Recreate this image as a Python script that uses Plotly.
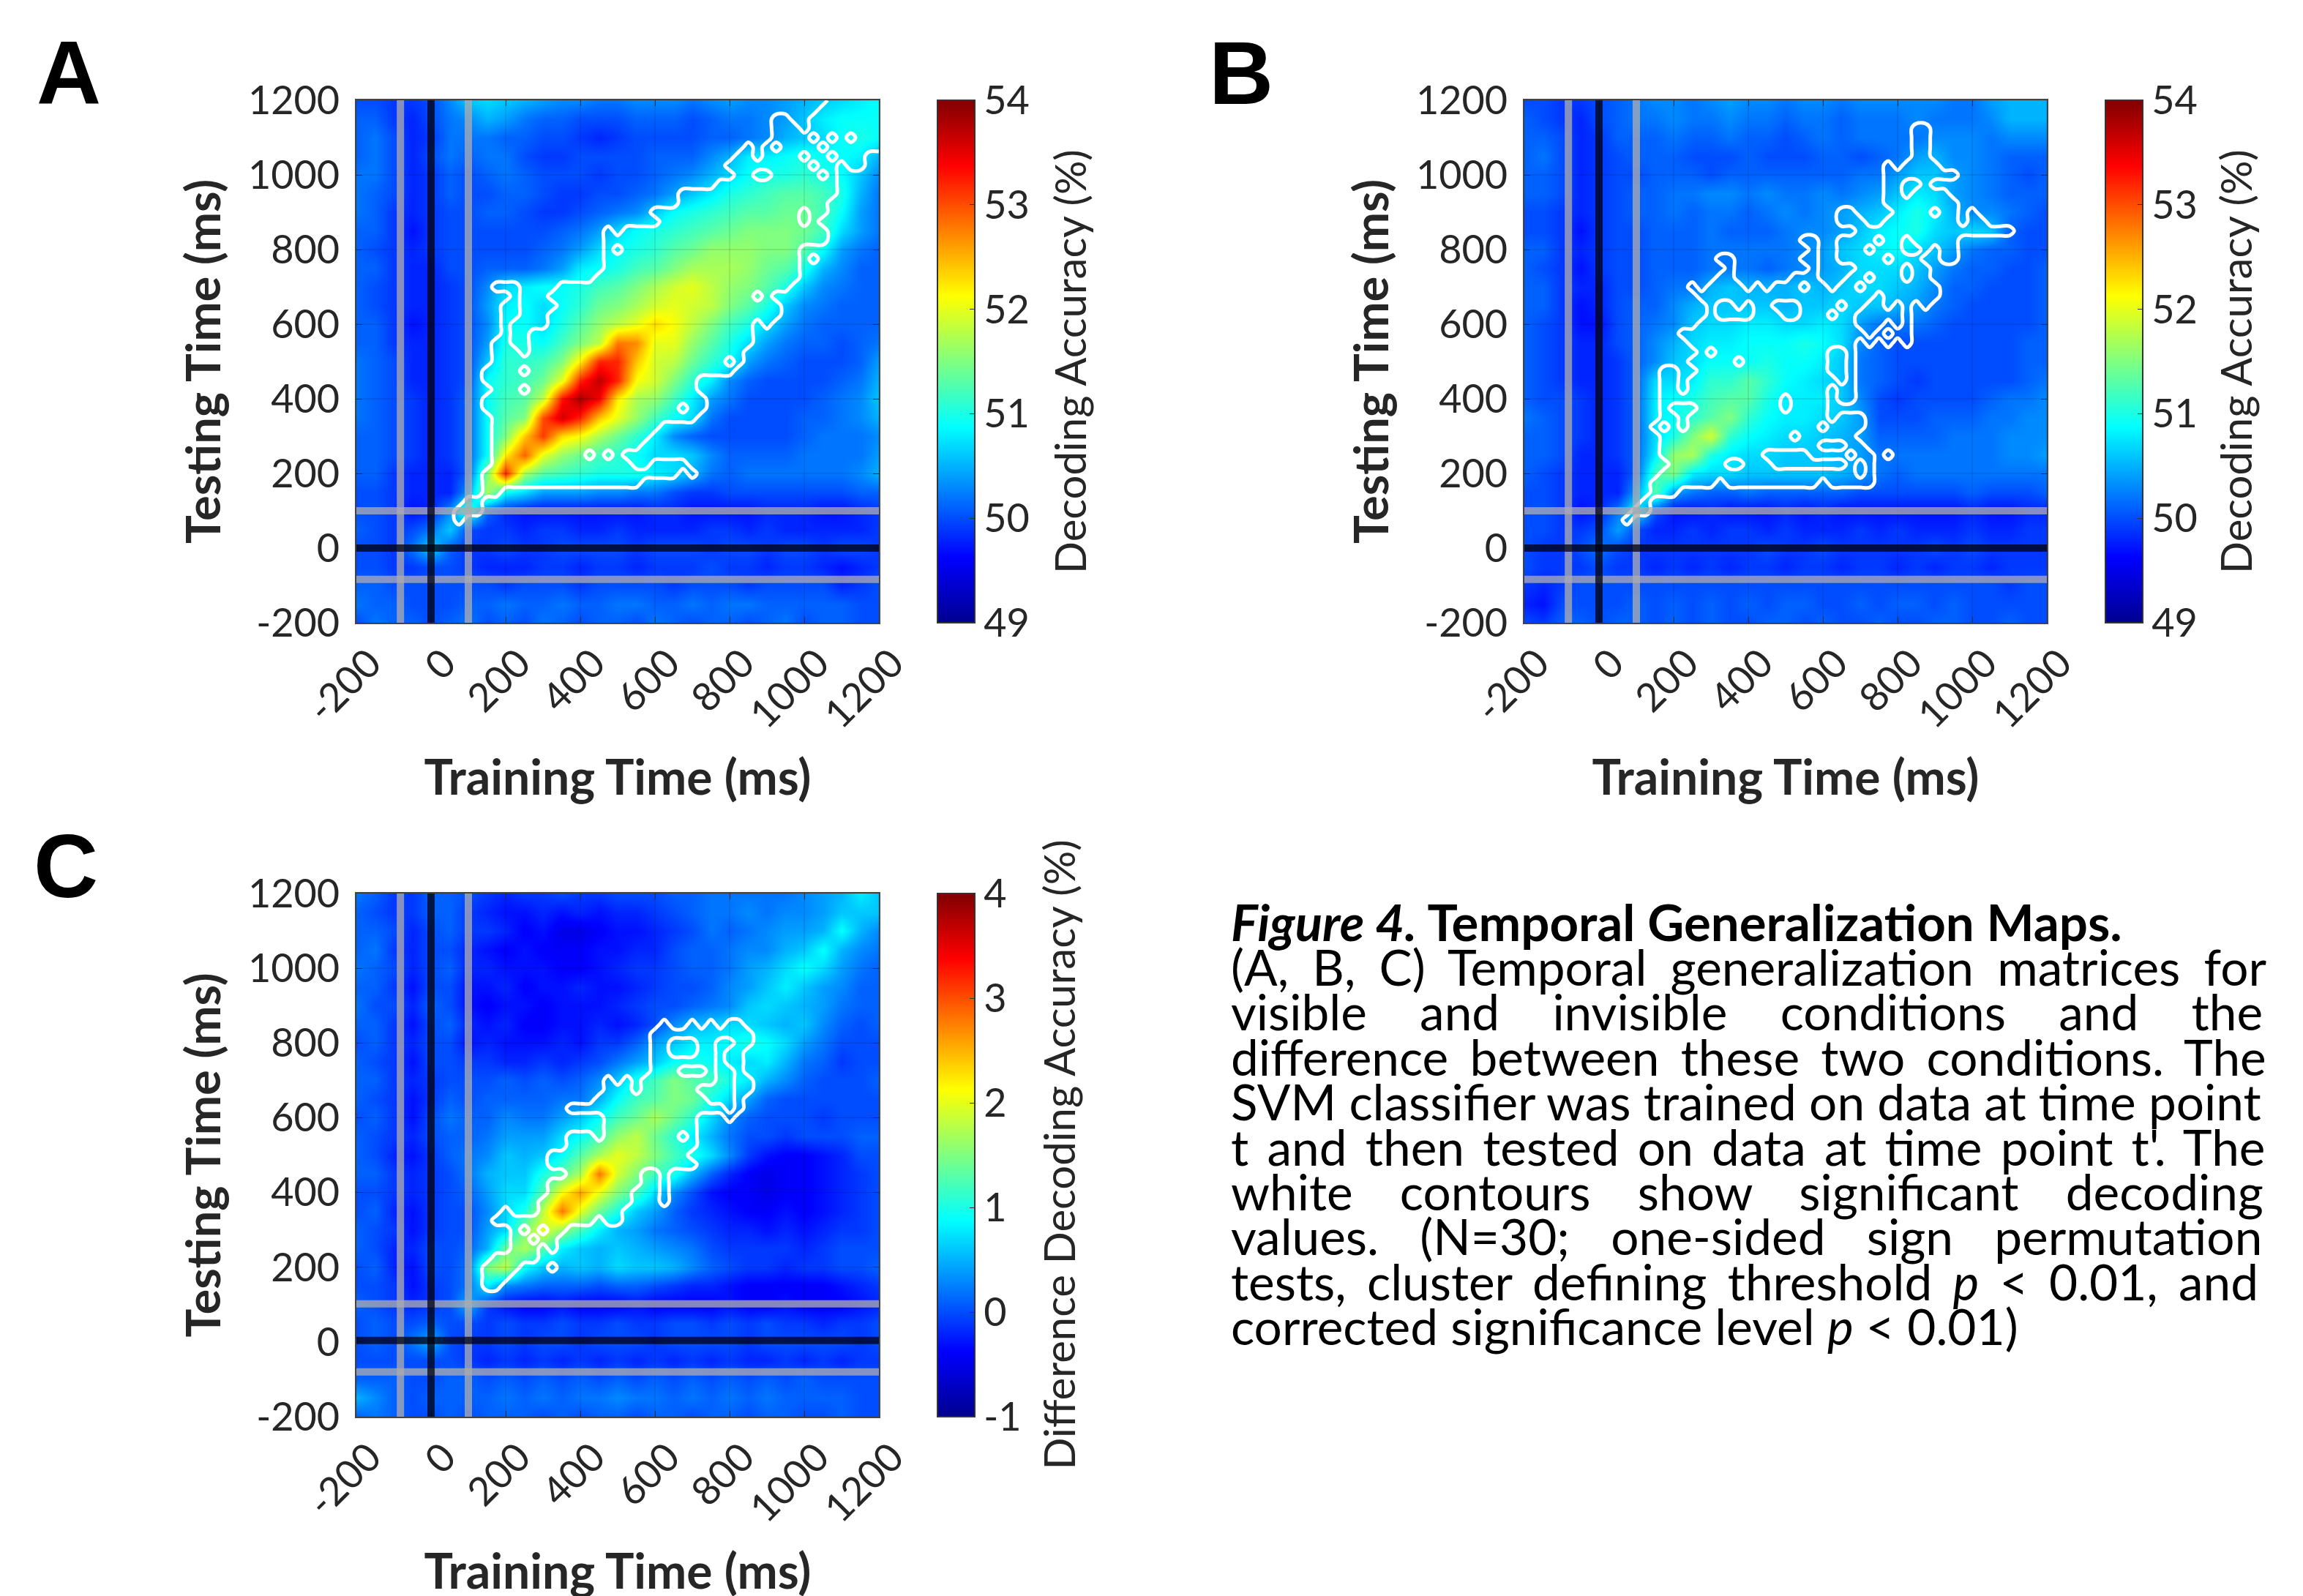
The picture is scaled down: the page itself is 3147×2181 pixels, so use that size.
import plotly.graph_objects as go

W, H = 3147, 2181
TIME_GRID = list(range(-200, 1201, 50))      # heat map sampling, ms
SIG_GRID = list(range(-200, 1201, 25))       # significance mask sampling, ms
TICKS = [-200, 0, 200, 400, 600, 800, 1000, 1200]
CB_TICKS_AB = [49, 50, 51, 52, 53, 54]
CB_TICKS_C = [-1, 0, 1, 2, 3, 4]
ONSET_GRAY_V = [-82, 100]
ONSET_GRAY_H = {"A": [100, -84], "B": [100, -84], "C": [102, -80]}
ONSET_BLACK_H = {"A": 0, "B": 0, "C": 4}

# rows run from testing time 1200 ms (first) down to -200 ms (last)
Z_A = [
[50.0,50.0,49.9,49.9,50.0,50.3,50.6,50.7,50.6,50.5,50.4,50.3,50.3,50.2,50.2,50.3,50.3,50.3,50.2,50.3,50.4,50.3,50.3,50.4,50.5,50.6,50.7,50.8,50.9],
[50.1,50.1,49.9,49.8,50.0,50.2,50.3,50.5,50.4,50.2,50.1,50.1,50.0,50.0,50.0,50.1,50.1,50.1,50.0,50.1,50.2,50.2,50.3,50.4,50.6,50.8,50.9,50.9,50.9],
[50.1,50.2,50.0,49.8,49.9,50.2,50.2,50.2,50.1,50.1,50.0,50.0,49.9,49.8,49.9,50.0,50.0,50.0,50.0,50.1,50.1,50.2,50.3,50.5,50.6,50.7,50.9,51.0,50.9],
[50.1,50.2,50.0,49.8,50.0,50.2,50.1,50.2,50.2,50.0,49.9,49.9,50.0,50.0,50.0,50.0,50.1,50.1,50.1,50.3,50.5,50.8,50.8,50.9,51.0,50.9,50.9,50.8,50.5],
[50.2,50.2,50.0,49.8,49.9,50.1,50.0,50.1,50.2,50.1,50.0,50.0,50.0,49.9,50.0,50.0,50.1,50.2,50.3,50.5,50.7,50.9,51.0,51.0,51.1,51.0,50.9,50.6,50.3],
[50.2,50.1,50.0,49.8,49.9,50.1,50.0,50.0,50.1,50.1,50.0,49.9,49.9,50.0,50.0,50.1,50.2,50.4,50.6,50.8,51.0,51.1,51.2,51.3,51.3,51.2,51.0,50.5,50.2],
[50.2,50.1,49.9,49.8,49.9,50.0,50.0,50.1,50.1,50.0,49.9,49.9,50.0,50.1,50.2,50.3,50.6,50.9,51.0,51.1,51.2,51.3,51.3,51.4,51.4,51.2,50.9,50.4,50.2],
[50.1,50.1,49.9,49.7,49.9,50.0,50.0,50.0,50.0,50.0,50.0,50.1,50.2,50.4,50.7,50.9,51.0,51.1,51.2,51.3,51.4,51.5,51.5,51.5,51.4,51.2,50.7,50.4,50.2],
[50.1,50.0,49.9,49.8,49.9,50.0,50.0,50.0,50.0,50.0,50.1,50.2,50.4,50.7,50.9,51.0,51.1,51.3,51.4,51.6,51.6,51.6,51.5,51.5,51.3,50.9,50.4,50.2,50.1],
[50.1,50.1,49.9,49.8,49.8,50.0,50.0,50.1,50.1,50.1,50.2,50.4,50.8,50.9,51.0,51.2,51.3,51.5,51.7,51.7,51.7,51.6,51.4,51.3,51.0,50.5,50.3,50.1,50.1],
[50.1,50.0,49.9,49.8,49.8,49.9,50.0,50.3,50.7,50.8,50.9,50.9,51.0,51.2,51.3,51.5,51.7,51.9,52.0,51.8,51.6,51.5,51.3,51.0,50.6,50.3,50.2,50.1,50.1],
[50.1,50.0,49.9,49.8,49.8,49.9,50.0,50.4,50.8,50.9,50.7,50.9,51.1,51.4,51.5,51.7,51.9,52.0,51.9,51.8,51.5,51.3,51.0,50.6,50.3,50.2,50.1,50.1,50.1],
[50.1,50.1,49.9,49.7,49.8,49.9,50.0,50.3,50.9,50.9,50.7,51.0,51.3,51.6,51.8,52.0,52.3,52.1,51.8,51.5,51.2,51.0,50.7,50.4,50.2,50.1,50.1,50.1,50.1],
[50.1,50.1,49.9,49.8,49.8,49.9,50.0,50.4,51.0,51.0,50.9,51.2,51.5,51.8,52.8,52.7,52.0,52.0,51.6,51.3,51.0,50.7,50.4,50.2,50.1,50.1,50.0,50.1,50.2],
[50.2,50.1,50.0,49.8,49.8,49.9,50.0,50.6,51.1,51.1,51.2,51.5,52.2,53.2,53.2,52.4,51.9,51.8,51.4,51.1,50.9,50.4,50.2,50.1,50.0,50.0,50.0,50.1,50.4],
[50.2,50.1,50.0,49.8,49.8,49.9,50.0,50.9,51.1,51.2,51.4,52.0,53.2,53.7,53.2,52.1,51.9,51.5,51.1,50.8,50.3,50.1,50.0,50.0,50.0,50.0,50.1,50.2,50.5],
[50.2,50.1,50.0,49.9,49.8,49.9,50.1,50.9,51.2,51.3,51.8,53.3,53.8,53.4,52.2,51.7,51.6,51.2,50.8,50.4,50.2,50.0,50.0,50.0,50.0,50.1,50.2,50.3,50.6],
[50.2,50.1,50.0,49.9,49.8,49.9,50.1,50.9,51.3,51.5,53.0,53.6,53.2,52.4,52.0,51.6,51.2,50.9,50.7,50.2,50.0,50.0,50.0,50.0,50.1,50.1,50.2,50.3,50.5],
[50.1,50.1,50.0,49.9,49.8,49.9,50.1,50.9,51.5,52.4,53.1,52.3,52.1,51.7,51.4,51.1,50.8,50.3,50.1,50.0,50.0,50.0,50.0,50.0,50.1,50.2,50.2,50.2,50.3],
[50.1,50.1,50.0,49.9,49.8,49.9,50.1,50.9,52.2,52.9,52.0,51.6,51.4,51.2,51.1,50.9,50.7,50.7,50.6,50.3,50.1,50.1,50.1,50.1,50.2,50.2,50.2,50.2,50.4],
[50.1,50.1,49.9,49.8,49.8,49.8,50.1,51.5,53.2,51.7,51.3,51.2,51.1,51.0,51.0,51.0,50.8,50.7,50.5,50.2,50.1,50.2,50.2,50.2,50.2,50.2,50.2,50.3,50.5],
[50.0,50.0,49.9,49.8,49.8,49.8,50.4,51.7,50.9,50.7,50.4,50.4,50.4,50.3,50.3,50.2,50.2,50.0,49.9,49.9,50.0,50.0,50.0,50.0,50.0,50.0,50.0,50.1,50.1],
[50.0,50.0,49.9,49.7,49.8,50.3,51.2,50.1,49.8,49.7,49.7,49.7,49.7,49.7,49.7,49.7,49.8,49.8,49.7,49.7,49.7,49.7,49.8,49.8,49.8,49.7,49.7,49.8,49.9],
[50.1,50.0,49.9,50.0,50.2,50.6,50.0,49.9,49.9,49.8,49.9,49.9,49.8,49.8,49.9,49.8,49.8,49.8,49.8,49.9,49.9,49.8,49.9,49.8,49.8,49.8,49.8,49.8,49.9],
[50.0,50.0,49.9,50.2,50.7,50.1,49.9,49.9,50.0,49.9,49.9,50.0,50.0,50.0,50.0,49.9,50.0,50.0,50.0,49.9,50.0,50.0,49.9,50.0,50.0,49.9,50.0,50.0,49.9],
[50.0,50.0,49.9,49.9,50.0,50.0,49.9,49.8,49.8,49.8,49.9,49.9,49.8,49.9,49.9,49.8,49.9,49.9,49.9,50.0,49.9,49.9,49.8,49.9,49.9,49.8,49.7,49.8,49.9],
[50.1,50.1,50.0,50.0,50.0,50.0,50.0,50.0,49.9,50.0,50.0,50.0,49.9,50.0,50.0,50.0,50.0,49.9,50.0,50.0,50.0,49.9,50.0,50.0,50.0,50.0,49.8,49.9,50.0],
[50.2,50.1,50.1,50.0,50.0,50.0,50.1,50.1,50.2,50.1,50.1,50.2,50.1,50.1,50.2,50.2,50.1,50.1,50.2,50.1,50.2,50.2,50.1,50.1,50.1,50.1,50.1,50.0,50.0],
[50.0,50.2,50.1,50.1,50.0,50.1,50.2,50.0,50.1,50.0,50.2,50.1,50.0,50.1,50.1,50.0,50.2,50.1,50.0,50.1,50.1,50.0,50.1,50.2,50.0,50.1,50.1,50.0,50.0],
]
Z_B = [
[50.0,50.0,49.9,49.9,50.0,50.1,50.2,50.3,50.3,50.2,50.3,50.4,50.3,50.3,50.2,50.3,50.3,50.2,50.3,50.3,50.3,50.3,50.3,50.2,50.2,50.4,50.5,50.5,50.5],
[50.1,50.0,49.9,49.8,50.0,50.1,50.2,50.2,50.3,50.2,50.2,50.3,50.2,50.2,50.1,50.2,50.2,50.1,50.2,50.2,50.2,50.3,50.2,50.2,50.2,50.3,50.5,50.5,50.5],
[50.1,50.1,50.0,49.8,49.9,50.1,50.1,50.1,50.2,50.1,50.1,50.2,50.1,50.1,50.0,50.1,50.2,50.1,50.2,50.2,50.2,50.2,50.3,50.3,50.3,50.2,50.3,50.3,50.3],
[50.1,50.2,50.0,49.8,49.9,50.0,50.1,50.1,50.1,50.0,50.0,50.0,50.1,50.0,50.0,50.0,50.1,50.1,50.0,50.1,50.2,50.4,50.5,50.3,50.3,50.2,50.1,50.1,50.1],
[50.1,50.1,50.0,49.8,49.9,50.0,50.0,50.1,50.1,50.1,50.0,50.1,50.1,50.1,50.1,50.1,50.1,50.1,50.2,50.2,50.4,50.6,50.6,50.4,50.3,50.2,50.1,50.0,50.1],
[50.1,50.1,50.0,49.8,49.9,50.0,50.1,50.1,50.2,50.2,50.3,50.3,50.2,50.3,50.2,50.2,50.3,50.2,50.3,50.4,50.6,50.8,50.7,50.4,50.3,50.2,50.1,50.1,50.1],
[50.0,50.0,49.9,49.8,49.9,50.0,50.1,50.1,50.2,50.1,50.2,50.2,50.1,50.2,50.3,50.2,50.3,50.4,50.5,50.6,50.8,51.0,50.8,50.5,50.3,50.3,50.2,50.1,50.0],
[50.0,50.0,49.9,49.7,49.9,50.0,50.0,50.1,50.1,50.1,50.2,50.1,50.1,50.1,50.2,50.3,50.3,50.4,50.6,50.8,50.9,51.0,50.7,50.6,50.7,50.6,50.1,50.0,50.0],
[50.1,50.1,49.9,49.8,49.9,50.0,50.0,50.1,50.1,50.1,50.2,50.2,50.2,50.2,50.2,50.3,50.4,50.6,50.7,50.8,50.9,50.7,50.6,50.4,50.2,50.1,50.1,50.0,50.0],
[50.1,50.0,49.9,49.7,49.9,50.0,50.0,50.1,50.1,50.1,50.2,50.2,50.2,50.1,50.2,50.3,50.4,50.5,50.7,50.7,50.7,50.6,50.4,50.2,50.1,50.1,50.0,50.0,50.1],
[50.1,50.1,49.9,49.8,49.8,50.0,50.0,50.1,50.2,50.2,50.5,50.6,50.5,50.5,50.5,50.6,50.5,50.6,50.7,50.7,50.6,50.5,50.3,50.1,50.1,50.0,50.0,50.0,50.1],
[50.1,50.1,49.9,49.7,49.8,50.0,50.1,50.1,50.3,50.5,50.6,50.6,50.6,50.6,50.5,50.6,50.6,50.7,50.6,50.6,50.5,50.4,50.2,50.1,50.0,50.0,50.0,50.0,50.1],
[50.1,50.0,49.9,49.7,49.7,50.0,50.1,50.2,50.3,50.6,50.7,50.7,50.8,50.8,50.7,50.7,50.8,50.7,50.4,50.2,50.2,50.2,50.1,50.0,50.0,50.0,50.0,50.0,50.1],
[50.1,50.0,49.9,49.8,49.8,50.0,50.1,50.3,50.5,50.7,50.8,50.8,50.9,50.9,50.9,51.0,50.9,50.7,50.3,50.1,50.0,50.0,50.0,50.0,50.0,50.0,50.0,50.1,50.1],
[50.1,50.0,49.9,49.8,49.8,49.9,50.1,50.3,50.6,50.7,50.9,50.9,50.9,51.0,50.9,50.9,50.8,50.6,50.2,50.1,50.0,50.0,50.0,50.0,50.0,50.0,50.0,50.1,50.1],
[50.1,50.0,49.9,49.8,49.8,49.9,50.1,50.7,50.7,50.8,51.1,51.1,51.3,51.1,50.9,50.8,50.7,50.6,50.2,50.1,50.0,49.9,50.0,50.0,50.0,50.0,50.0,50.1,50.2],
[50.1,50.0,50.0,49.9,49.8,49.9,50.1,50.8,50.9,51.0,51.2,51.3,51.3,51.0,50.8,50.8,50.8,50.6,50.3,50.0,49.9,50.0,50.0,50.0,50.0,50.1,50.2,50.2,50.3],
[50.2,50.1,50.0,49.9,49.8,49.9,50.1,50.8,50.9,51.1,51.3,51.5,51.1,50.9,50.8,50.8,50.7,50.6,50.4,50.0,50.0,50.0,50.1,50.1,50.1,50.2,50.2,50.3,50.3],
[50.1,50.1,50.0,49.9,49.8,49.9,50.1,50.7,51.0,51.5,51.9,51.1,50.9,50.8,50.7,50.7,50.6,50.5,50.4,50.1,50.1,50.1,50.1,50.2,50.2,50.2,50.3,50.3,50.3],
[50.1,50.1,50.0,49.8,49.8,49.9,50.1,50.8,51.6,51.7,51.0,50.8,50.7,50.7,50.6,50.6,50.6,50.5,50.4,50.2,50.2,50.2,50.2,50.2,50.2,50.2,50.3,50.3,50.4],
[50.1,50.0,49.9,49.8,49.8,49.8,50.1,51.2,51.5,50.8,50.7,50.7,50.6,50.6,50.6,50.6,50.6,50.5,50.4,50.2,50.1,50.2,50.2,50.2,50.2,50.2,50.2,50.2,50.2],
[50.0,50.0,49.9,49.8,49.8,49.8,50.4,51.3,50.4,50.2,50.1,50.1,50.2,50.1,50.1,50.1,50.1,50.1,50.0,50.0,50.0,50.0,50.0,50.0,50.1,50.0,50.0,50.0,50.1],
[50.0,50.0,49.9,49.7,49.8,50.2,50.9,50.0,49.7,49.7,49.8,49.7,49.7,49.7,49.8,49.7,49.8,49.7,49.7,49.7,49.7,49.7,49.7,49.7,49.8,49.7,49.7,49.8,49.8],
[50.0,50.0,49.9,49.9,50.0,50.4,50.0,49.8,49.8,49.9,49.8,49.9,49.9,49.8,49.9,49.8,49.8,49.8,49.9,49.8,49.9,49.8,49.8,49.8,49.9,49.8,49.8,49.9,49.9],
[50.0,49.9,49.9,50.0,50.2,50.0,49.9,49.9,49.9,49.9,49.9,49.9,49.9,50.0,49.9,49.9,50.0,49.9,49.9,49.9,49.9,49.9,50.0,49.9,50.0,49.9,49.9,49.9,49.9],
[50.0,49.9,49.9,49.9,50.0,49.9,49.9,49.8,49.9,49.8,49.9,49.8,49.9,49.9,49.8,49.9,49.9,49.8,49.9,49.9,49.8,49.9,49.8,49.9,49.9,49.8,49.9,49.9,49.9],
[49.9,49.8,49.9,50.0,50.0,50.0,50.0,50.0,50.0,50.0,50.0,50.0,50.0,50.0,50.0,50.0,50.0,50.0,50.0,50.0,50.0,50.0,50.0,50.0,50.0,50.0,49.9,50.0,50.0],
[49.8,49.7,50.0,50.0,50.0,50.0,50.1,50.0,50.1,50.0,50.1,50.0,50.1,50.0,50.1,50.1,50.0,50.0,50.1,50.0,50.1,50.1,50.0,50.1,50.0,50.0,50.0,50.0,50.0],
[50.0,49.9,50.1,50.1,50.0,50.1,50.1,50.0,50.1,50.0,50.1,50.0,50.0,50.1,50.1,50.0,50.1,50.0,50.0,50.1,50.0,50.0,50.1,50.1,50.0,50.0,50.1,50.0,50.0],
]
Z_C = [
[0.2,0.1,-0.1,-0.1,0.1,0.1,0.0,-0.1,-0.2,-0.1,-0.1,0.0,-0.1,-0.1,0.0,0.0,0.0,0.1,0.1,0.2,0.2,0.2,0.2,0.2,0.3,0.4,0.5,0.8,0.6],
[0.1,0.0,-0.1,-0.1,0.1,0.1,-0.1,-0.2,-0.3,-0.3,-0.2,-0.3,-0.2,-0.3,-0.2,-0.2,-0.1,0.0,0.1,0.2,0.2,0.3,0.2,0.3,0.3,0.4,0.6,0.6,0.6],
[0.1,0.1,0.0,-0.2,0.0,0.1,-0.1,-0.1,-0.2,-0.4,-0.3,-0.5,-0.5,-0.4,-0.3,-0.3,-0.2,-0.1,0.0,0.2,0.1,0.2,0.3,0.4,0.4,0.5,0.9,0.5,0.3],
[0.1,0.2,-0.1,-0.2,0.0,0.0,-0.2,-0.3,-0.4,-0.3,-0.4,-0.4,-0.4,-0.3,-0.3,-0.2,-0.2,0.0,0.1,0.1,0.2,0.3,0.3,0.5,0.6,0.9,0.5,0.3,0.2],
[0.2,0.1,0.0,-0.2,0.0,0.1,-0.2,-0.2,-0.3,-0.3,-0.3,-0.4,-0.4,-0.3,-0.2,-0.1,-0.1,0.0,0.1,0.1,0.2,0.4,0.5,0.7,0.9,0.7,0.4,0.2,0.1],
[0.1,0.1,-0.1,-0.3,0.0,0.0,-0.3,-0.3,-0.2,-0.4,-0.3,-0.3,-0.2,-0.3,-0.3,-0.2,-0.1,0.0,0.0,0.1,0.3,0.4,0.6,0.8,0.6,0.4,0.3,0.1,0.1],
[0.2,0.0,0.0,-0.2,0.1,0.0,-0.3,-0.4,-0.3,-0.3,-0.4,-0.3,-0.3,-0.3,-0.2,-0.1,0.0,0.0,0.1,0.2,0.3,0.6,0.7,0.6,0.5,0.4,0.2,0.1,0.1],
[0.1,0.1,-0.1,-0.3,0.0,0.1,-0.2,-0.3,-0.2,-0.4,-0.4,-0.3,-0.3,-0.2,-0.3,-0.2,0.0,0.3,0.5,0.6,0.7,0.7,0.6,0.5,0.6,0.3,0.1,0.0,0.1],
[0.0,0.1,-0.1,-0.2,0.0,0.0,-0.3,-0.2,-0.3,-0.3,-0.3,-0.2,-0.3,-0.1,-0.1,0.1,0.4,0.6,0.8,0.8,0.9,1.0,0.9,0.7,0.4,0.2,0.0,0.0,0.0],
[0.1,0.0,-0.1,-0.3,0.0,0.0,-0.1,-0.1,-0.2,-0.2,-0.1,-0.2,-0.1,0.0,0.2,0.4,0.6,0.9,1.0,0.9,0.8,0.7,0.8,0.5,0.2,0.1,-0.1,0.0,0.0],
[0.1,0.1,-0.1,-0.2,-0.1,0.0,0.0,0.0,0.1,0.0,0.1,0.0,0.1,0.3,0.6,1.0,1.2,1.5,1.3,1.2,1.0,0.8,0.5,0.3,0.1,0.0,0.0,0.0,0.1],
[0.1,0.0,-0.1,-0.3,-0.1,0.1,0.0,0.1,0.1,0.1,0.1,0.2,0.2,0.5,0.9,1.2,1.3,1.5,1.4,1.0,0.7,0.4,0.1,0.0,0.0,0.0,0.0,0.0,0.0],
[0.0,0.1,-0.1,-0.3,0.0,0.2,0.1,0.1,0.3,0.2,0.2,0.4,0.6,0.9,1.2,1.4,1.7,1.4,1.1,0.7,0.3,0.1,0.0,0.0,0.0,-0.1,0.0,0.0,0.0],
[0.1,0.0,-0.1,-0.2,0.0,0.1,0.1,0.2,0.4,0.4,0.4,0.7,0.9,1.2,1.6,1.8,1.4,1.1,0.8,0.5,0.2,0.0,0.0,-0.1,0.0,0.0,0.0,0.1,0.1],
[0.1,0.0,-0.2,-0.3,-0.1,0.1,0.2,0.3,0.6,0.5,0.6,0.9,1.3,1.7,2.0,1.8,1.5,1.2,1.0,0.7,0.3,-0.1,-0.3,-0.4,-0.4,-0.3,-0.2,0.0,0.0],
[0.1,0.1,-0.1,-0.2,-0.1,0.0,0.2,0.5,0.6,0.6,1.0,1.3,1.7,2.8,1.9,1.5,1.2,1.0,0.5,0.1,-0.2,-0.4,-0.5,-0.4,-0.4,-0.3,-0.2,-0.1,0.0],
[0.0,0.0,-0.1,-0.2,-0.1,0.0,0.1,0.4,0.7,0.7,1.3,2.1,2.6,2.0,1.5,1.2,0.7,0.3,0.0,-0.3,-0.4,-0.4,-0.5,-0.4,-0.4,-0.3,-0.2,-0.1,0.0],
[0.0,0.1,-0.2,-0.3,-0.1,0.0,0.0,0.3,0.7,1.0,1.8,2.8,2.0,1.4,1.0,0.6,0.4,0.1,-0.1,-0.2,-0.3,-0.4,-0.4,-0.3,-0.4,-0.3,-0.2,-0.1,0.0],
[0.1,0.0,-0.1,-0.3,-0.1,0.0,0.0,0.4,0.7,1.5,2.0,1.6,1.2,0.8,0.5,0.4,0.2,0.1,0.0,-0.1,-0.2,-0.2,-0.3,-0.2,-0.3,-0.2,-0.1,-0.1,0.0],
[0.1,0.0,-0.2,-0.2,0.0,0.0,0.1,0.5,1.4,1.7,1.3,0.8,0.6,0.5,0.6,0.5,0.4,0.3,0.2,0.0,-0.1,-0.1,-0.1,-0.1,-0.2,-0.1,0.0,0.0,0.0],
[0.0,0.1,-0.2,-0.3,0.0,0.0,0.2,1.5,1.8,0.9,0.6,0.5,0.6,0.5,0.7,0.6,0.6,0.5,0.3,0.1,0.0,-0.1,-0.1,-0.2,-0.1,-0.1,0.0,0.0,0.1],
[0.0,0.0,-0.1,-0.3,-0.1,0.0,0.2,0.8,0.3,0.2,0.1,0.1,0.1,0.0,0.1,0.1,0.0,-0.1,-0.2,-0.2,-0.3,-0.4,-0.4,-0.4,-0.4,-0.4,-0.3,-0.2,-0.1],
[0.1,0.0,-0.1,-0.2,-0.1,0.0,0.5,-0.1,-0.3,-0.4,-0.4,-0.3,-0.4,-0.4,-0.4,-0.3,-0.4,-0.4,-0.4,-0.4,-0.3,-0.4,-0.4,-0.3,-0.4,-0.4,-0.4,-0.3,-0.2],
[0.0,0.1,0.0,0.0,0.1,0.0,0.0,-0.1,0.0,-0.1,-0.1,0.0,-0.1,-0.1,0.0,-0.1,-0.1,0.0,0.0,-0.1,0.0,-0.1,0.0,-0.1,-0.1,-0.2,-0.1,-0.1,0.0],
[0.0,0.1,0.0,0.2,0.5,0.0,-0.1,-0.1,0.0,-0.1,0.0,0.0,-0.1,0.0,0.0,0.0,-0.1,0.0,0.0,0.0,0.0,-0.1,0.0,0.0,0.0,0.0,0.0,-0.1,0.0],
[0.0,0.0,0.0,0.0,0.0,0.0,-0.1,-0.2,-0.1,-0.2,-0.1,-0.2,-0.1,-0.2,-0.1,-0.2,-0.1,-0.2,-0.1,-0.2,-0.1,-0.2,-0.2,-0.1,-0.2,-0.1,-0.2,-0.1,-0.1],
[0.1,0.1,0.1,0.0,0.0,0.1,0.1,0.0,0.1,0.0,0.1,0.0,0.1,0.0,0.1,0.0,0.1,0.0,0.1,0.0,0.1,0.0,0.1,0.0,0.1,0.0,0.0,0.0,0.0],
[0.5,0.3,0.1,0.0,0.1,0.1,0.1,0.1,0.2,0.1,0.2,0.1,0.2,0.2,0.3,0.2,0.2,0.1,0.2,0.1,0.2,0.1,0.2,0.1,0.1,0.1,0.1,0.0,0.0],
[0.1,0.2,0.1,0.0,0.0,0.1,0.0,0.1,0.1,0.1,0.0,0.1,0.0,0.1,0.1,0.0,0.1,0.1,0.0,0.1,0.1,0.0,0.1,0.1,0.0,0.0,0.1,0.0,0.0],
]

# significant stretches of training time (ms) at each testing time (ms)
SIG_A = {
1200:[(1075,1200)],1175:[(1050,1200)],1150:[(925,950),(1025,1200)],1125:[(925,975),(1025,1200)],
1100:[(925,1000),(1050,1050),(1100,1100),(1150,1200)],1075:[(850,850),(900,900),(950,1025),(1075,1200)],
1050:[(825,850),(900,975),(1025,1050),(1100,1150)],1025:[(800,1000),(1050,1075),(1125,1150)],
1000:[(825,850),(925,1025),(1075,1075)],975:[(775,1075)],950:[(675,1075)],925:[(675,700),(725,1050)],
900:[(600,975),(1025,1050)],875:[(625,650),(675,975),(1025,1025)],850:[(475,475),(525,1050)],825:[(475,1050)],
800:[(475,475),(525,975)],775:[(475,975),(1025,1025)],750:[(475,975)],725:[(450,975)],700:[(175,225),(350,950)],
675:[(225,225),(325,850),(900,900)],650:[(200,225),(350,925)],625:[(200,225),(325,925)],
600:[(200,200),(325,850),(900,900)],575:[(200,200),(275,850)],550:[(175,200),(275,850)],525:[(175,225),(275,825)],
500:[(175,775),(825,825)],475:[(150,225),(275,800)],450:[(150,700)],425:[(175,225),(275,700)],400:[(150,725)],
375:[(150,650),(700,725)],350:[(175,700)],325:[(175,600)],300:[(175,575)],275:[(175,550)],
250:[(175,400),(450,450),(500,500)],225:[(175,525),(600,625),(650,675)],200:[(150,650),(700,700)],175:[(150,550)],
150:[(150,175)],125:[(100,125)],100:[(75,125)],75:[(75,75)],
}
SIG_B = {
1125:[(850,875)],1100:[(850,875)],1075:[(850,875)],1050:[(850,875)],1025:[(775,775),(825,900)],1000:[(775,950)],
975:[(775,800),(875,875)],950:[(775,800),(850,925)],925:[(775,950)],900:[(650,675),(800,875),(925,950),(1000,1000)],
875:[(650,700),(775,950),(1000,1025)],850:[(700,1100)],825:[(550,575),(650,725),(775,800),(850,950)],
800:[(575,575),(650,700),(750,800),(875,875),(925,950)],775:[(325,350),(550,575),(650,750),(800,850),(925,950)],
750:[(350,350),(575,575),(700,800),(850,875)],725:[(325,350),(525,575),(675,700),(750,800),(850,875)],
700:[(250,250),(300,350),(375,375),(425,425),(475,525),(575,600),(650,675),(725,825),(850,900)],
675:[(275,375),(400,450),(475,725),(775,800),(825,900)],
650:[(300,300),(375,375),(425,450),(550,625),(675,700),(775,775),(825,825),(875,875)],
625:[(300,300),(425,475),(550,600),(650,675),(825,825)],600:[(275,675),(775,775),(825,825)],
575:[(225,700),(750,750),(800,825)],550:[(250,675),(725,725),(775,775),(825,825)],525:[(275,275),(325,600),(675,675)],
500:[(250,350),(400,600),(675,675)],475:[(175,200),(275,600),(675,675)],450:[(175,200),(250,625),(675,675)],
425:[(175,200),(250,600),(650,675)],400:[(175,475),(525,600),(650,675)],375:[(175,175),(275,475),(525,600)],
350:[(175,200),(250,600),(650,700)],325:[(150,150),(200,200),(250,575),(625,700)],300:[(175,500),(550,675)],
275:[(175,575),(675,700)],250:[(175,425),(575,650),(700,725),(775,775)],225:[(200,325),(400,450),(675,675),(725,725)],
200:[(175,675),(725,725)],175:[(150,300),(350,575),(625,725)],150:[(150,200)],125:[(125,125)],100:[(100,125)],75:[(75,75)],
}
SIG_C = {
850:[(625,625),(700,700),(750,750),(800,825)],825:[(600,625),(650,700),(725,850)],800:[(600,625),(725,750),(825,850)],
775:[(600,625),(725,750),(800,825)],750:[(600,750),(800,825)],725:[(600,650),(750,750),(825,825)],
700:[(475,475),(525,525),(575,750),(825,850)],675:[(475,525),(575,700),(825,850)],650:[(450,725),(825,825)],
625:[(375,775),(825,825)],600:[(475,700),(800,800)],575:[(475,700)],550:[(375,425),(475,650),(700,700)],525:[(375,700)],
500:[(325,675)],475:[(325,700)],450:[(375,550),(625,625)],425:[(325,550),(625,625)],400:[(325,525),(625,625)],
375:[(300,525),(625,625)],350:[(200,200),(300,500)],325:[(175,200),(225,275),(300,425),(475,500)],
300:[(225,225),(275,275),(325,350)],275:[(225,250),(300,325)],250:[(225,275),(325,325)],225:[(175,275)],
200:[(150,225),(325,325)],175:[(150,200)],150:[(150,175)],
}

CAPTION = [
    ("<b><i>Figure 4.</i> Temporal Generalization Maps.</b>", 0),
    ("(A, B, C) Temporal generalization matrices for", 15),
    ("visible and invisible conditions and the", 55),
    ("difference between these two conditions. The", 12),
    ("SVM classifier was trained on data at time point", 0),
    ("t and then tested on data at time point t'. The", 8),
    ("white contours show significant decoding", 47),
    ("values. (N=30; one-sided sign permutation", 39),
    ("tests, cluster defining threshold <i>p</i> &lt; 0.01, and", 11),
    ("corrected significance level <i>p</i> &lt; 0.01)", 0),
]

JET = [[0, "rgb(0,0,143)"], [0.125, "rgb(0,0,255)"], [0.375, "rgb(0,255,255)"],
       [0.625, "rgb(255,255,0)"], [0.875, "rgb(255,0,0)"], [1, "rgb(128,0,0)"]]
TXT = "#262626"
LATO = "Lato"
PAGE_MARGIN = 8   # the written page has an 8 px body margin

for m in (Z_A, Z_B, Z_C):
    assert len(m) == len(TIME_GRID) and all(len(r) == len(TIME_GRID) for r in m)

def mask(sig):
    return [[1 if any(a <= x <= b for a, b in sig.get(y, [])) else 0 for x in SIG_GRID] for y in SIG_GRID]

def px(v): return (v - PAGE_MARGIN) / W
def py(v): return 1 - (v - PAGE_MARGIN) / H

PANELS = [
    dict(name="A", n="", box=(487, 137, 1201, 851), cb=1281, z=Z_A, sig=SIG_A, zr=(49, 54), ct=CB_TICKS_AB,
         cbt="Decoding Accuracy (%)", cbx=1461, letter="A", lx=94, ly=100),
    dict(name="B", n="2", box=(2083, 137, 2797, 851), cb=2877, z=Z_B, sig=SIG_B, zr=(49, 54), ct=CB_TICKS_AB,
         cbt="Decoding Accuracy (%)", cbx=3054, letter="B", lx=1696, ly=100),
    dict(name="C", n="3", box=(487, 1221, 1201, 1936), cb=1281, z=Z_C, sig=SIG_C, zr=(-1, 4), ct=CB_TICKS_C,
         cbt="Difference Decoding Accuracy (%)", cbx=1446, letter="C", lx=90, ly=1184),
]

fig = go.Figure()
shapes, annots = [], []
layout = {}
for p in PANELS:
    l, t, r, b = p["box"]
    xa, ya = "x" + p["n"], "y" + p["n"]
    fig.add_trace(go.Heatmap(
        x=TIME_GRID, y=TIME_GRID[::-1], z=p["z"], xaxis=xa, yaxis=ya, colorscale=JET,
        zmin=p["zr"][0], zmax=p["zr"][1], zsmooth="best", hoverinfo="skip",
        colorbar=dict(
            x=px(p["cb"]), xanchor="left", xref="paper", xpad=0, y=py(b), yanchor="bottom", yref="paper", ypad=0,
            len=b - t, lenmode="pixels", thickness=51, thicknessmode="pixels",
            tickmode="array", tickvals=p["ct"], ticktext=[str(v) for v in p["ct"]],
            ticks="inside", ticklen=8, tickcolor="#333", tickfont=dict(family=LATO, size=54, color=TXT),
            outlinecolor="#333", outlinewidth=2),
    ))
    fig.add_trace(go.Contour(
        x=SIG_GRID, y=SIG_GRID, z=mask(p["sig"]), xaxis=xa, yaxis=ya, autocontour=False,
        contours=dict(start=0.5, end=0.5, size=1, coloring="none"),
        line=dict(color="white", width=5), showscale=False, hoverinfo="skip",
    ))
    ax = dict(
        domain=[px(l), px(r)], range=[-200, 1200], tickmode="array", tickvals=TICKS, ticktext=[str(v) for v in TICKS],
        ticks="inside", ticklen=8, tickcolor="#333", showline=True, mirror="ticks", linecolor="#444", linewidth=2,
        showgrid=False, zeroline=False, tickfont=dict(family=LATO, size=54, color=TXT), automargin=False,
    )
    layout["xaxis" + p["n"]] = dict(ax, anchor=ya, tickangle=-45, ticklabelshift=18,
        title=dict(text="<b>Training Time (ms)</b>", font=dict(family=LATO, size=66, color=TXT), standoff=34))
    layout["yaxis" + p["n"]] = dict(ax, anchor=xa, domain=[py(b), py(t)], ticklabelstandoff=10,
        title=dict(text="<b>Testing Time (ms)</b>", font=dict(family=LATO, size=65, color=TXT), standoff=16))
    for v in TICKS:
        shapes.append(dict(type="line", xref=xa, yref=ya, x0=v, x1=v, y0=-200, y1=1200, line=dict(color="rgba(0,0,0,0.18)", width=1)))
        shapes.append(dict(type="line", xref=xa, yref=ya, y0=v, y1=v, x0=-200, x1=1200, line=dict(color="rgba(0,0,0,0.18)", width=1)))
    gray = dict(color="rgba(170,170,175,0.78)", width=10)
    black = dict(color="rgba(0,0,10,0.75)", width=10)
    for v in ONSET_GRAY_V:
        shapes.append(dict(type="line", xref=xa, yref=ya, x0=v, x1=v, y0=-200, y1=1200, line=gray))
    for v in ONSET_GRAY_H[p["name"]]:
        shapes.append(dict(type="line", xref=xa, yref=ya, y0=v, y1=v, x0=-200, x1=1200, line=gray))
    shapes.append(dict(type="line", xref=xa, yref=ya, x0=0, x1=0, y0=-200, y1=1200, line=black))
    shapes.append(dict(type="line", xref=xa, yref=ya, y0=ONSET_BLACK_H[p["name"]], y1=ONSET_BLACK_H[p["name"]], x0=-200, x1=1200, line=black))
    annots.append(dict(text=p["cbt"], xref="paper", yref="paper", x=px(p["cbx"]), y=py((t + b) / 2), textangle=-90,
                       showarrow=False, xanchor="center", yanchor="middle", font=dict(family=LATO, size=58, color=TXT)))
    annots.append(dict(text="<b>%s</b>" % p["letter"], xref="paper", yref="paper", x=px(p["lx"]), y=py(p["ly"]),
                       showarrow=False, xanchor="center", yanchor="middle", font=dict(family="Liberation Sans", size=122, color="black")))

CAP_LEFT, CAP_TOP, CAP_STEP = 1680, 1259, 61.4
for i, (line, spacing) in enumerate(CAPTION):
    txt = '<span style="word-spacing:%dpx">%s</span>' % (spacing, line) if spacing else line
    annots.append(dict(text=txt, xref="paper", yref="paper", x=px(CAP_LEFT), y=py(CAP_TOP + i * CAP_STEP),
                       showarrow=False, xanchor="left", yanchor="middle", align="left",
                       font=dict(family=LATO, size=69 if i == 0 else 67.5, color="black")))

fig.update_layout(width=W, height=H, margin=dict(l=0, r=0, t=0, b=0), paper_bgcolor="white", plot_bgcolor="white",
                  shapes=shapes, annotations=annots, showlegend=False, **layout)
fig.write_html("out.html")
